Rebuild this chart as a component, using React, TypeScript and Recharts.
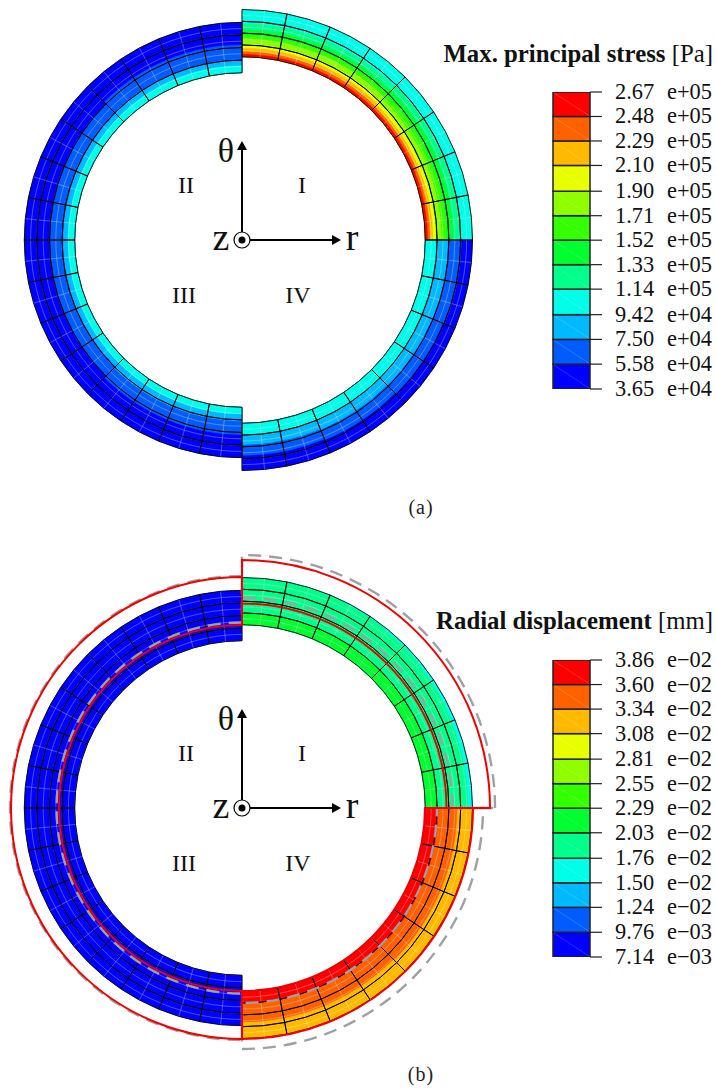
import React from "react";
import { BarChart, Bar, XAxis, YAxis, PieChart, Pie } from "recharts";

const SERIF = "'Liberation Serif', serif";

// contour colours, top of the colour bar first
const levelColors = [
  "#ff0000", "#ff6000", "#ffba00", "#e8ff00", "#8fff00", "#34ff00",
  "#00ff2e", "#00ff8b", "#00ffe8", "#00b9ff", "#005cff", "#0000ff",
];

const stressTicks = [267000, 248000, 229000, 210000, 190000, 171000, 152000, 133000, 114000, 94200, 75000, 55800, 36500];
const displacementTicks = [0.0386, 0.036, 0.0334, 0.0308, 0.0281, 0.0255, 0.0229, 0.0203, 0.0176, 0.015, 0.0124, 0.00976, 0.00714];

// Contour bands through the wall (0 inner surface, 1 outer surface).
// Each row is one equal slice of the quadrant, counterclockwise.
const stressQ1Levels = [0, 1, 2, 3, 4, 5, 6, 7, 8];
const stressQ1Edges = [
  [0.05, 0.1, 0.16, 0.22, 0.34, 0.45, 0.59, 0.72, 1],
  [0.05, 0.11, 0.18, 0.26, 0.37, 0.46, 0.57, 0.7, 1],
];
const stressQ2Levels = [8, 9, 10, 11];
const stressQ2Edges = [
  [0.14, 0.25, 0.55, 1],
  [0.13, 0.23, 0.49, 1],
];
const stressQ3Levels = [8, 9, 10, 11];
const stressQ3Edges = [
  [0.13, 0.23, 0.49, 1],
  [0.13, 0.27, 0.54, 1],
];
const stressQ4Levels = [8, 9, 10, 11];
const stressQ4Edges = [
  [0.245, 0.45, 0.68, 1],
  [0.25, 0.46, 0.7, 1],
  [0.25, 0.47, 0.72, 1],
  [0.23, 0.48, 0.76, 1],
];

const dispQ1Levels = [6, 7, 8];
const dispQ1Edges = [
  [0.25, 0.9, 1],
  [0.25, 0.91, 1],
  [0.25, 0.93, 1],
  [0.25, 0.95, 1],
  [0.25, 0.97, 1],
  [0.25, 0.99, 1],
  [0.25, 1, 1],
];
const dispQ2Levels = [11];
const dispQ2Edges = [[1]];
const dispQ3Levels = [11];
const dispQ3Edges = [[1]];
const dispQ4Levels = [0, 1, 2];
const dispQ4Edges = [
  [0.24, 0.65, 1],
  [0.27, 0.67, 1],
];

// wall radii per quadrant I..IV
const wallInner = [183.3, 167.3, 167.3, 183.3];
const wallOuter = [230.5, 217.7, 217.7, 230.5];
// deformed (red) and scaled (grey) outlines: quadrant I, quadrants II+III, quadrant IV
const outlineStart = [0, 90, 270];
const outlineSpan = [90, 180, 90];
const redInner = [204.5, 183, 183];
const redOuter = [248, 231, 231];
const greyInner = [210.5, 185.5, 195];
const greyOuter = [253, 232, 241];

const ELEMENTS = 8;
const RINGS = 4;
const quadrantStart = [0, 90, 180, 270];

type Field = { levels: number[]; edges: number[][] }[];

const stressField: Field = [
  { levels: stressQ1Levels, edges: stressQ1Edges },
  { levels: stressQ2Levels, edges: stressQ2Edges },
  { levels: stressQ3Levels, edges: stressQ3Edges },
  { levels: stressQ4Levels, edges: stressQ4Edges },
];
const dispField: Field = [
  { levels: dispQ1Levels, edges: dispQ1Edges },
  { levels: dispQ2Levels, edges: dispQ2Edges },
  { levels: dispQ3Levels, edges: dispQ3Edges },
  { levels: dispQ4Levels, edges: dispQ4Edges },
];

const sectors = (n: number) => Array.from({ length: n }, () => ({ value: 1 }));

function fieldPies(field: Field, cx: number, cy: number, prefix: string) {
  const pies: React.ReactNode[] = [];
  field.forEach((q, qi) => {
    const ri = wallInner[qi];
    const ro = wallOuter[qi];
    const span = 90 / q.edges.length;
    q.edges.forEach((row, ci) => {
      const start = quadrantStart[qi] + ci * span;
      // painted outside in, so that no seam shows between the bands
      for (let b = row.length - 1; b >= 0; b--) {
        const color = levelColors[q.levels[b]];
        pies.push(
          <Pie
            key={`${prefix}-${qi}-${ci}-${b}`}
            data={sectors(1)}
            dataKey="value"
            cx={cx}
            cy={cy}
            startAngle={start}
            endAngle={start + span}
            innerRadius={ri}
            outerRadius={ri + (ro - ri) * row[b]}
            fill={color}
            stroke={color}
            strokeWidth={0.5}
            isAnimationActive={false}
          />
        );
      }
    });
  });
  return pies;
}

function meshPies(cx: number, cy: number, prefix: string, rings: number, elements: number, stroke: string, width: number) {
  const pies: React.ReactNode[] = [];
  quadrantStart.forEach((start, qi) => {
    const step = (wallOuter[qi] - wallInner[qi]) / rings;
    for (let r = 0; r < rings; r++) {
      pies.push(
        <Pie
          key={`${prefix}-${qi}-${r}`}
          data={sectors(elements)}
          dataKey="value"
          cx={cx}
          cy={cy}
          startAngle={start}
          endAngle={start + 90}
          innerRadius={wallInner[qi] + step * r}
          outerRadius={wallInner[qi] + step * (r + 1)}
          fill="none"
          stroke={stroke}
          strokeWidth={width}
          isAnimationActive={false}
        />
      );
    }
  });
  return pies;
}

function outlinePies(cx: number, cy: number, inner: number[], outer: number[], stroke: string, width: number, dash?: string) {
  return outlineStart.map((start, i) => (
    <Pie
      key={`${stroke}-${i}`}
      data={sectors(1)}
      dataKey="value"
      cx={cx}
      cy={cy}
      startAngle={start}
      endAngle={start + outlineSpan[i]}
      innerRadius={inner[i]}
      outerRadius={outer[i]}
      fill="none"
      stroke={stroke}
      strokeWidth={width}
      strokeDasharray={dash}
      isAnimationActive={false}
    />
  ));
}

function AxesSketch({ cy }: { cy: number }) {
  const cx = 242;
  return (
    <g fontFamily={SERIF} fill="#111">
      <line x1={cx} y1={cy} x2={cx} y2={cy - 92} stroke="#000" strokeWidth={2} />
      <polygon points={`${cx},${cy - 99} ${cx - 5},${cy - 90} ${cx + 5},${cy - 90}`} fill="#000" />
      <line x1={cx} y1={cy} x2={cx + 92} y2={cy} stroke="#000" strokeWidth={2} />
      <polygon points={`${cx + 99},${cy} ${cx + 90},${cy - 5} ${cx + 90},${cy + 5}`} fill="#000" />
      <circle cx={cx} cy={cy} r={8} fill="#fff" stroke="#000" strokeWidth={1.2} />
      <circle cx={cx} cy={cy} r={3.5} fill="#000" />
      <text x={226} y={cy - 78} fontSize={34} textAnchor="middle">θ</text>
      <text x={221} y={cy + 10} fontSize={38} textAnchor="middle">z</text>
      <text x={352} y={cy + 10} fontSize={38} textAnchor="middle">r</text>
      <text x={302} y={cy - 47} fontSize={24} textAnchor="middle">I</text>
      <text x={186} y={cy - 47} fontSize={24} textAnchor="middle">II</text>
      <text x={184} y={cy + 63} fontSize={24} textAnchor="middle">III</text>
      <text x={298} y={cy + 63} fontSize={24} textAnchor="middle">IV</text>
    </g>
  );
}

function BandShape(props: any) {
  const { x, y, width, height, fill } = props;
  if (fill === "none") return null;
  return (
    <g>
      <rect x={x} y={y} width={width} height={height} fill={fill} stroke="#222" strokeWidth={1.5} />
      <line x1={x + 1} y1={y + 1} x2={x + width - 1} y2={y + height - 1} stroke="#fff" strokeOpacity={0.3} strokeWidth={0.6} />
    </g>
  );
}

function LegendTick(props: any) {
  const { x, y, payload } = props;
  const [mantissa, exp] = Number(payload.value).toExponential(2).split("e");
  const sign = exp[0] === "-" ? "\u2212" : "+";
  const digits = exp.slice(1).padStart(2, "0");
  return (
    <g fontFamily={SERIF} fontSize={22.4} fill="#111">
      <text x={x + 11} y={y + 7}>{mantissa}</text>
      <text x={x + 63} y={y + 7}>{`e${sign}${digits}`}</text>
    </g>
  );
}

function ColorBar({ ticks, top }: { ticks: number[]; top: number }) {
  const row: Record<string, number | string> = { name: "bar", base: ticks[ticks.length - 1] };
  const keys: string[] = [];
  for (let i = ticks.length - 2; i >= 0; i--) {
    row[`band${i}`] = ticks[i] - ticks[i + 1];
    keys.push(`band${i}`);
  }
  return (
    <div style={{ position: "absolute", left: 540, top: top - 12 }}>
      <BarChart
        width={176}
        height={321}
        data={[row]}
        margin={{ top: 12, bottom: 12, left: 13, right: 0 }}
        barCategoryGap={0}
      >
        <XAxis dataKey="name" hide />
        <YAxis
          orientation="right"
          type="number"
          width={126}
          domain={[ticks[ticks.length - 1], ticks[0]]}
          ticks={ticks}
          interval={0}
          allowDataOverflow
          axisLine={false}
          tickLine={{ stroke: "#222", strokeWidth: 1.2 }}
          tickSize={12}
          tick={<LegendTick />}
        />
        <Bar dataKey="base" stackId="s" fill="none" shape={<BandShape />} isAnimationActive={false} />
        {keys.map((k) => {
          const idx = Number(k.slice(4));
          return <Bar key={k} dataKey={k} stackId="s" fill={levelColors[idx]} shape={<BandShape />} isAnimationActive={false} />;
        })}
      </BarChart>
    </div>
  );
}

export default function App() {
  const cyA = 240;
  const cyB = 808;
  const cx = 242;
  return (
    <div style={{ position: "absolute", left: 0, top: 0, width: 716, height: 1091, background: "#fff" }}>
      <PieChart width={716} height={1091} margin={{ top: 0, bottom: 0, left: 0, right: 0 }}>
        {fieldPies(stressField, cx, cyA, "sa")}
        {meshPies(cx, cyA, "wa", RINGS * 2, ELEMENTS * 2, "rgba(255,255,255,0.28)", 0.6)}
        {meshPies(cx, cyA, "ma", RINGS, ELEMENTS, "#000", 0.9)}
        {fieldPies(dispField, cx, cyB, "sb")}
        {meshPies(cx, cyB, "wb", RINGS * 2, ELEMENTS * 2, "rgba(255,255,255,0.28)", 0.6)}
        {meshPies(cx, cyB, "mb", RINGS, ELEMENTS, "#000", 0.9)}
        {outlinePies(cx, cyB, greyInner, greyOuter, "#a0a0a0", 2.4, "13 8")}
        {outlinePies(cx, cyB, redInner, redOuter, "#f00000", 2)}
        <AxesSketch cy={cyA} />
        <AxesSketch cy={cyB} />
        <text x={713} y={62} textAnchor="end" fontFamily={SERIF} fontSize={24.8} fill="#111">
          <tspan fontWeight="bold">Max. principal stress</tspan> [Pa]
        </text>
        <text x={713} y={629} textAnchor="end" fontFamily={SERIF} fontSize={24.8} fill="#111">
          <tspan fontWeight="bold">Radial displacement</tspan> [mm]
        </text>
        <text x={421} y={514} textAnchor="middle" fontFamily={SERIF} fontSize={20} letterSpacing={1} fill="#222">(a)</text>
        <text x={421} y={1081} textAnchor="middle" fontFamily={SERIF} fontSize={20} letterSpacing={1} fill="#222">(b)</text>
      </PieChart>
      <ColorBar ticks={stressTicks} top={92} />
      <ColorBar ticks={displacementTicks} top={660} />
    </div>
  );
}
